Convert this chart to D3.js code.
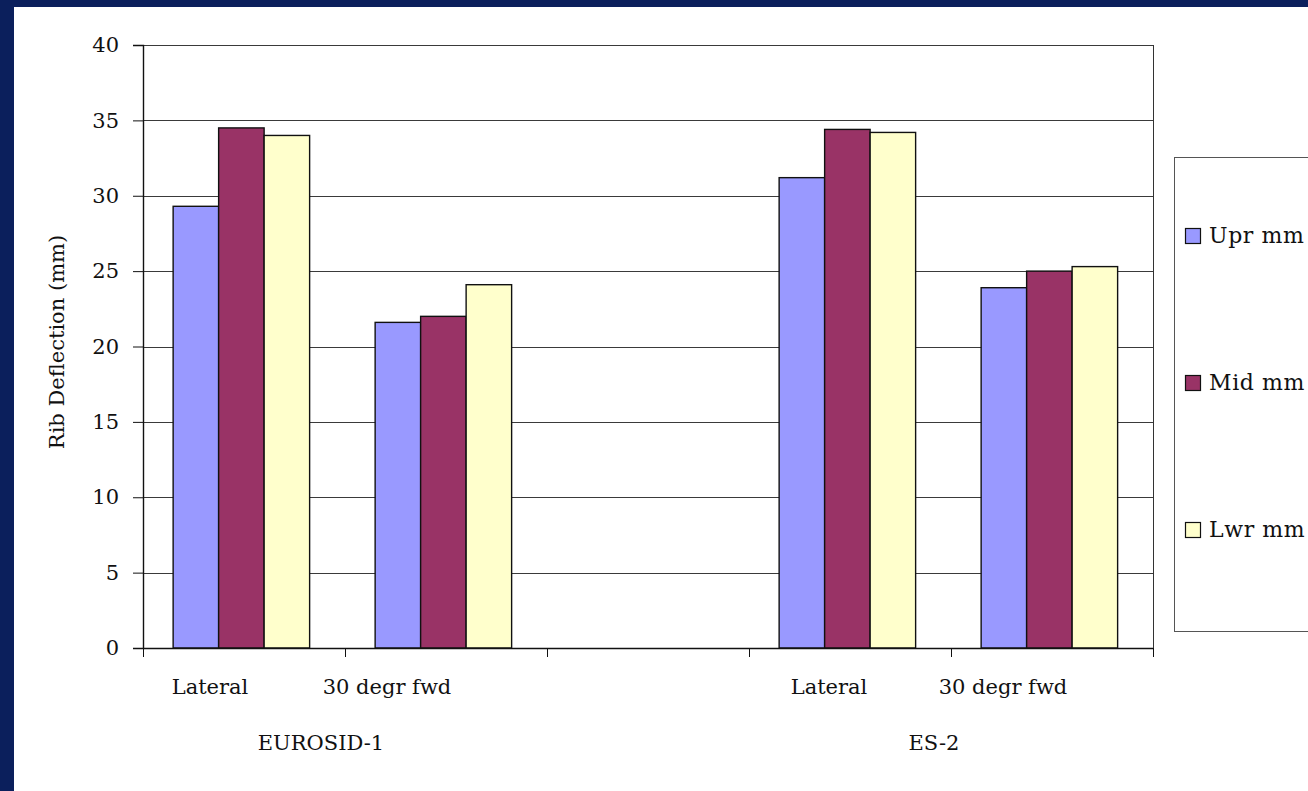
<!DOCTYPE html>
<html>
<head>
<meta charset="utf-8">
<script src="https://cdn.jsdelivr.net/npm/d3@7"></script>
<style>
  html, body { margin: 0; padding: 0; background: #0b1f5c; }
  svg { display: block; }
  text { font-family: "DejaVu Serif", "Liberation Serif", serif; fill: #111; }
</style>
</head>
<body>
<svg id="chart" width="1308" height="791"></svg>
<script>
// Rib deflection per dummy and impact direction
const slots = ["E-Lat", "E-30", "gap", "S-Lat", "S-30"];
const slotLabels = ["Lateral", "30 degr fwd", "", "Lateral", "30 degr fwd"];
const slotLabelShift = [-34, -59, 0, -21, -49];
const groups = ["EUROSID-1", "ES-2"];
const groupSpans = [["E-Lat", "E-30"], ["S-Lat", "S-30"]];
const groupLabelShift = [-24, -17];
const seriesNames = ["Upr mm", "Mid mm", "Lwr mm"];
const seriesColors = ["#9999ff", "#993366", "#ffffcc"];
const barSlots = ["E-Lat", "E-30", "S-Lat", "S-30"];
const uprValues = [29.3, 21.6, 31.2, 23.9];
const midValues = [34.5, 22.0, 34.4, 25.0];
const lwrValues = [34.0, 24.1, 34.2, 25.3];
const yTicks = [0, 5, 10, 15, 20, 25, 30, 35, 40];

const FONT = "21px";
const svg = d3.select("#chart");
// white chart panel inside the navy frame
svg.append("rect").attr("x", 14).attr("y", 7).attr("width", 1294).attr("height", 784).attr("fill", "#fff");

const plot = { left: 143, right: 1153, top: 45, bottom: 648 };

const x = d3.scaleBand().domain(slots).range([plot.left, plot.right]).paddingInner(0).paddingOuter(0);
const y = d3.scaleLinear().domain([0, 40]).range([plot.bottom, plot.top]);
const xInner = d3.scaleBand().domain(seriesNames).range([0, x.bandwidth()])
  .paddingInner(0).paddingOuter(0.72).align(0.46);

// horizontal gridlines
svg.append("g").selectAll("line").data(yTicks.filter(d => d > 0)).join("line")
  .attr("x1", plot.left).attr("x2", plot.right)
  .attr("y1", d => Math.round(y(d)) + 0.5).attr("y2", d => Math.round(y(d)) + 0.5)
  .attr("stroke", "#3a3a3a").attr("stroke-width", 1);

// plot frame (right edge)
svg.append("line").attr("x1", plot.right + 0.5).attr("x2", plot.right + 0.5)
  .attr("y1", plot.top).attr("y2", plot.bottom).attr("stroke", "#333");

// bars
const rows = barSlots.map((s, i) => ({ slot: s, vals: [uprValues[i], midValues[i], lwrValues[i]] }));
const barG = svg.append("g");
rows.forEach(r => {
  r.vals.forEach((v, k) => {
    barG.append("rect")
      .attr("x", x(r.slot) + xInner(seriesNames[k]))
      .attr("y", y(v))
      .attr("width", xInner.bandwidth())
      .attr("height", y(0) - y(v))
      .attr("fill", seriesColors[k])
      .attr("stroke", "#111").attr("stroke-width", 1.4);
  });
});

// y axis
const yAxis = d3.axisLeft(y).tickValues(yTicks).tickSize(10).tickPadding(14).tickFormat(d3.format("d"));
const yg = svg.append("g").attr("transform", `translate(${plot.left},0)`).call(yAxis);
yg.select(".domain").attr("stroke", "#111").attr("stroke-width", 1.4);
yg.selectAll(".tick line").attr("stroke", "#111");
yg.selectAll(".tick text").style("font-size", FONT).style("font-family", "DejaVu Serif").attr("fill", "#111");

// x axis with ticks at band boundaries
const xg = svg.append("g");
xg.append("line").attr("x1", plot.left).attr("x2", plot.right)
  .attr("y1", plot.bottom + 0.5).attr("y2", plot.bottom + 0.5).attr("stroke", "#111").attr("stroke-width", 1.4);
const boundaries = slots.map(s => x(s)).concat([x(slots[slots.length - 1]) + x.bandwidth()]);
xg.selectAll("line.tk").data(boundaries).join("line").attr("class", "tk")
  .attr("x1", d => Math.round(d) + 0.5).attr("x2", d => Math.round(d) + 0.5)
  .attr("y1", plot.bottom).attr("y2", plot.bottom + 9).attr("stroke", "#111");

// category labels
xg.selectAll("text.cat").data(slots.map((s, i) => ({ s, label: slotLabels[i], dx: slotLabelShift[i] })).filter(d => d.label))
  .join("text").attr("class", "cat")
  .attr("x", d => x(d.s) + x.bandwidth() / 2 + d.dx)
  .attr("y", plot.bottom + 46)
  .attr("text-anchor", "middle").style("font-size", FONT)
  .text(d => d.label);

// group labels
xg.selectAll("text.grp").data(groups.map((g, i) => ({ g, span: groupSpans[i], dx: groupLabelShift[i] })))
  .join("text").attr("class", "grp")
  .attr("x", d => (x(d.span[0]) + x(d.span[1]) + x.bandwidth()) / 2 + d.dx)
  .attr("y", plot.bottom + 102)
  .attr("text-anchor", "middle").style("font-size", FONT)
  .text(d => d.g);

// y axis title
svg.append("text")
  .attr("transform", `translate(64,342) rotate(-90)`)
  .attr("text-anchor", "middle").style("font-size", FONT)
  .text("Rib Deflection (mm)");

// legend (runs past the right edge of the panel)
const legend = svg.append("g");
legend.append("rect").attr("x", 1174.5).attr("y", 157.5).attr("width", 150).attr("height", 474)
  .attr("fill", "#fff").attr("stroke", "#555");
const legendY = d3.scalePoint().domain(seriesNames).range([236, 530]);
seriesNames.forEach((n, k) => {
  legend.append("rect").attr("x", 1185.5).attr("y", legendY(n) - 7.5).attr("width", 15).attr("height", 15)
    .attr("fill", seriesColors[k]).attr("stroke", "#111").attr("stroke-width", 1.2);
  legend.append("text").attr("x", 1209).attr("y", legendY(n) + 7)
    .style("font-size", "22px").style("letter-spacing", "0.6px").text(n);
});
</script>
</body>
</html>
